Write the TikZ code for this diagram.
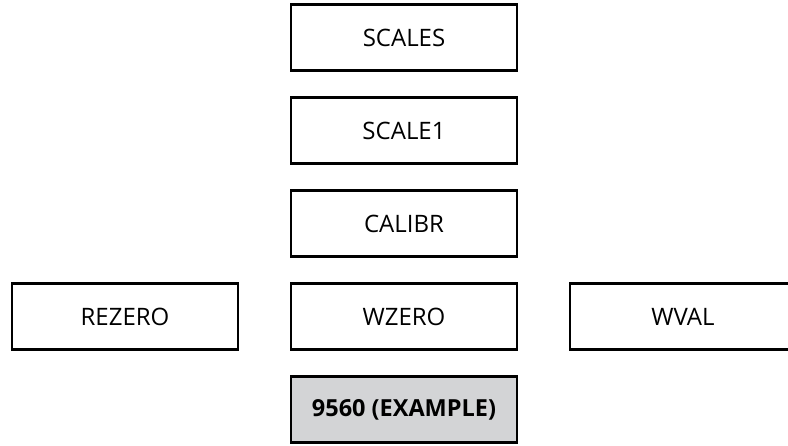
\documentclass[tikz,border=0pt]{standalone}
\usepackage{fontspec}
\setmainfont{Open Sans}
\usetikzlibrary{positioning}
\definecolor{boxgray}{RGB}{211,212,214}

\begin{document}
\begin{tikzpicture}[node distance=93pt and 279pt,on grid,
	box/.style={draw,line width=2.2pt,minimum width=226pt,minimum height=66pt,font=\fontsize{24}{28}\selectfont},
	example/.style={box,fill=boxgray,font=\fontsize{23.5}{28}\selectfont\bfseries}]
	\useasboundingbox (0,0) rectangle (788pt,-445pt);
	\node[box] (scales) at (404pt,-37.5pt) {SCALES};
	\node[box] (scale1) [below=of scales] {SCALE1};
	\node[box] (calibr) [below=of scale1] {CALIBR};
	\node[box] (wzero) [below=of calibr] {WZERO};
	\node[box] (rezero) [left=of wzero] {REZERO};
	\node[box] (wval) [right=of wzero] {WVAL};
	\node[example] (example) [below=of wzero] {9560 (EXAMPLE)};
\end{tikzpicture}
\end{document}
